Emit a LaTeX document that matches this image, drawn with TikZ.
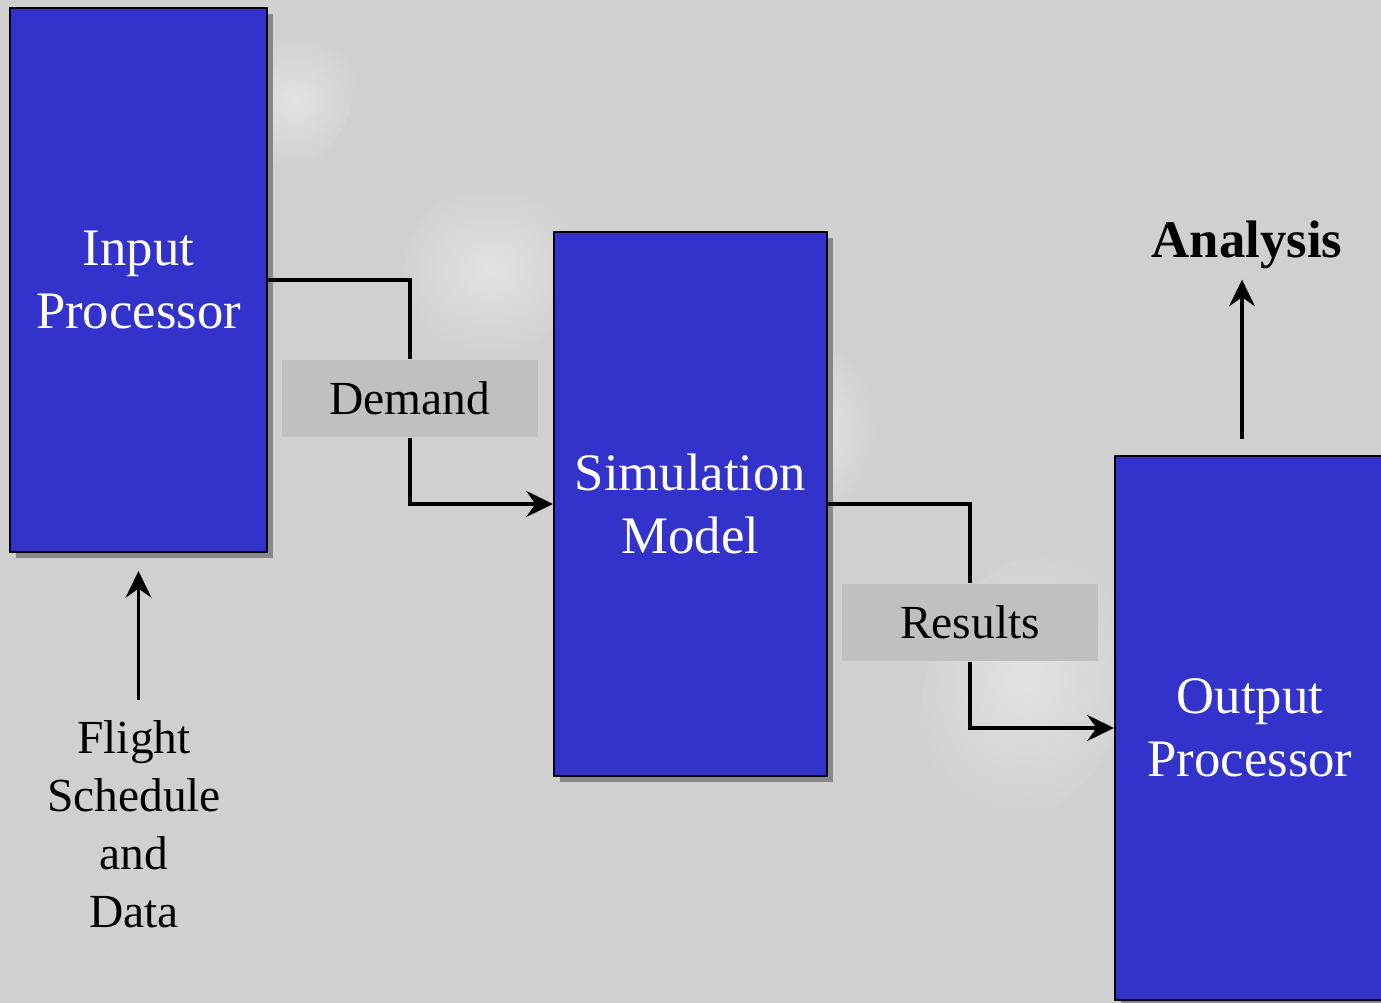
\documentclass[tikz,border=0pt]{standalone}
\usepackage{fontspec}
\setmainfont{Liberation Serif}
\usetikzlibrary{arrows.meta,shadows}

\definecolor{bgGray}{RGB}{208,208,208}
\definecolor{blobGray}{RGB}{226,226,226}
\definecolor{boxBlue}{RGB}{51,51,204}
\definecolor{tagGray}{RGB}{192,192,192}
\definecolor{shadowGray}{RGB}{136,136,136}

\begin{document}
\begin{tikzpicture}[
    block/.style={draw, line width=0.6pt, fill=boxBlue, text=white,
        minimum height=5.44cm, inner sep=0, align=center,
        font=\fontsize{15}{17.9}\selectfont,
        drop shadow={shadow xshift=0.06cm, shadow yshift=-0.06cm,
            fill=shadowGray, opacity=1}},
    tag/.style={fill=tagGray, minimum width=2.56cm, minimum height=0.77cm,
        inner sep=0, font=\fontsize{13.5}{16}\selectfont},
    flow/.style={line width=0.9pt, -{Stealth[length=7.6pt, width=7.4pt, inset=2.6pt]}}
]

    % Background
    \useasboundingbox (0, 0) rectangle (13.81, 10.03);
    \clip (0, 0) rectangle (13.81, 10.03);
    \fill[bgGray] (0, 0) rectangle (13.81, 10.03);
    \shade[inner color=blobGray, outer color=bgGray, rotate around={-25:(2.95, 9.03)}]
        (2.95, 9.03) ellipse (0.55 and 0.75);
    \shade[inner color=blobGray, outer color=bgGray, rotate around={-30:(4.9, 7.33)}]
        (4.9, 7.33) ellipse (0.85 and 0.95);
    \shade[inner color=blobGray, outer color=bgGray]
        (8.25, 5.73) ellipse (0.5 and 0.85);
    \shade[inner color=blobGray, outer color=bgGray, rotate around={-20:(10.25, 3.13)}]
        (10.25, 3.13) ellipse (1.0 and 1.4);

    % Processors
    \node[block, minimum width=2.57cm] (input) at (1.385, 7.23) {Input\\Processor};
    \node[block, minimum width=2.73cm] (sim) at (6.905, 4.99) {Simulation\\Model};
    \node[block, minimum width=2.70cm] (output) at (12.5, 2.75) {Output\\Processor};

    % Labels
    \node[tag] (demand) at (4.10, 6.045) {Demand};
    \node[tag] (results) at (9.70, 3.805) {Results};
    \node[align=center, inner sep=0, font=\fontsize{13.5}{16.5}\selectfont]
        (flight) at (1.34, 1.79) {Flight\\Schedule\\and\\Data};
    \node[inner sep=0, font=\fontsize{15}{18}\selectfont\bfseries]
        (analysis) at (12.47, 7.58) {Analysis};
    \coordinate (top) at ([xshift=-0.05cm]analysis.south);

    % Lines
    \draw[flow] (input.east) -| (demand) |- (sim.west);
    \draw[flow] (sim.east) -| (results) |- (output.west);
    \draw[flow, shorten <=2mm, shorten >=1.8mm] (input.south |- flight.north) -- (input.south);
    \draw[flow, shorten <=1.6mm, shorten >=1mm] (output.north -| top) -- (top);

\end{tikzpicture}
\end{document}
